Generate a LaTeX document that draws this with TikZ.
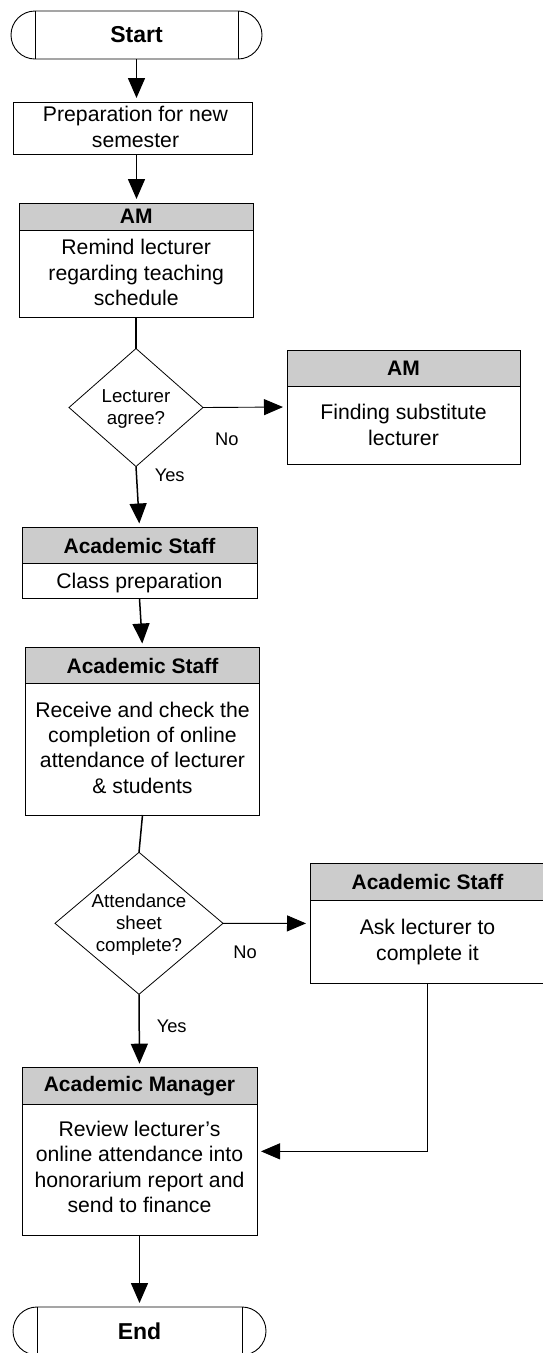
\documentclass[tikz,border=0pt]{standalone}
\usepackage{fontspec}
\setmainfont{Liberation Sans}
\usetikzlibrary{arrows.meta,shapes.geometric}
\definecolor{hdrgray}{RGB}{204,204,204}
\begin{document}
\begin{tikzpicture}[x=1pt,y=-1pt,
  every node/.style={inner sep=0pt, outer sep=0pt},
  term/.style={draw=black, line width=0.9pt, rectangle, rounded corners=24pt, minimum height=48pt, fill=white, font=\fontsize{23}{27}\selectfont\bfseries},
  box/.style={draw=black, line width=1pt, rectangle, fill=white},
  hdr/.style={draw=black, line width=1pt, rectangle, fill=hdrgray, font=\fontsize{21}{25}\selectfont\bfseries},
  body/.style={align=center, font=\fontsize{21.2}{25.3}\selectfont},
  dec/.style={draw=black, line width=0.8pt, diamond, fill=white},
  dtxt/.style={align=center, font=\fontsize{18.7}{22.2}\selectfont},
  lbl/.style={anchor=base, font=\fontsize{18.3}{22}\selectfont},
  flow/.style={line width=1.5pt, -{Triangle[length=20pt,width=17pt]}, shorten >=4pt},
  thinflow/.style={line width=0.9pt, -{Triangle[length=19pt,width=16pt]}, shorten >=4pt},
  plain/.style={line width=1.5pt},
  sep/.style={line width=0.9pt}
]
\fill[white] (0,0) rectangle (543,1353);
\useasboundingbox (0,0) rectangle (543,1353);

% Start
\node[term, minimum width=251pt] (st) at (136.5,35) {Start};
\draw[sep] ([xshift=24pt]st.north west) -- ([xshift=24pt]st.south west);
\draw[sep] ([xshift=-24pt]st.north east) -- ([xshift=-24pt]st.south east);

% Preparation
\node[box, minimum width=239pt, minimum height=52pt] (prep) at (132.5,128) {};
\node[body] (prept) at (135.5,127) {Preparation for new\\semester};

% AM 1
\node[box, minimum width=234.5pt, minimum height=114pt] (am1) at (136.25,260) {};
\node[hdr, minimum width=234.5pt, minimum height=27pt, anchor=north] (am1h) at (am1.north) {AM};
\node[body] (am1b) at (136.25,272.5) {Remind lecturer\\regarding teaching\\schedule};

% Decision 1
\node[dec, minimum width=134pt, minimum height=118pt] (d1) at (136,407.5) {};
\node[dtxt] (d1t) at (136,408.6) {Lecturer\\agree?};

% AM 2
\node[box, minimum width=233pt, minimum height=114pt] (am2) at (403.5,407) {};
\node[hdr, minimum width=233pt, minimum height=36.5pt, anchor=north] (am2h) at (am2.north) {AM};
\node[body] (am2b) at (403.5,425) {Finding substitute\\lecturer};

% Academic Staff 1
\node[box, minimum width=235pt, minimum height=71pt] (as1) at (139.5,563) {};
\node[hdr, minimum width=235pt, minimum height=36pt, anchor=north] (as1h) at (as1.north) {Academic Staff};
\node[body] (as1b) at (139.5,582.6) {Class preparation};

% Academic Staff 2
\node[box, minimum width=234pt, minimum height=167.5pt] (as2) at (142.5,731.25) {};
\node[hdr, minimum width=234pt, minimum height=36pt, anchor=north] (as2h) at (as2.north) {Academic Staff};
\node[body] (as2b) at (142.5,747.5) {Receive and check the\\completion of online\\attendance of lecturer\\\& students};

% Decision 2
\node[dec, minimum width=168pt, minimum height=142pt] (d2) at (139,923.3) {};
\node[dtxt] (d2t) at (139,924.9) {Attendance\\sheet\\complete?};

% Academic Staff 3
\node[box, minimum width=235pt, minimum height=120.8pt] (as3) at (427.5,923.4) {};
\node[hdr, minimum width=235pt, minimum height=37pt, anchor=north] (as3h) at (as3.north) {Academic Staff};
\node[body] (as3b) at (427.5,942) {Ask lecturer to\\complete it};

% Academic Manager
\node[box, minimum width=235pt, minimum height=167.3pt] (amg) at (139.5,1151.35) {};
\node[hdr, minimum width=235pt, minimum height=36.6pt, anchor=north] (amgh) at (amg.north) {Academic Manager};
\node[body] (amgb) at (139.5,1167) {Review lecturer’s\\online attendance into\\honorarium report and\\send to finance};

% End
\node[term, minimum width=253pt] (en) at (139.5,1331) {End};
\draw[sep] ([xshift=24pt]en.north west) -- ([xshift=24pt]en.south west);
\draw[sep] ([xshift=-24pt]en.north east) -- ([xshift=-24pt]en.south east);

% Labels
\node[lbl] (no1) at (226.8,445) {No};
\node[lbl] (yes1) at (169.7,481.7) {Yes};
\node[lbl] (no2) at (245,958.3) {No};
\node[lbl] (yes2) at (171.7,1032.7) {Yes};

% Connectors
\draw[flow] (st.south) -- (st.south |- prep.north);
\draw[flow] (prep.south -| st.south) -- (st.south |- am1.north);
\draw[plain] (am1.south -| d1.north) -- (d1.north);
\draw[thinflow] (d1.east) -- (am2.west);
\draw[flow] (d1.south) -- (as1.north);
\draw[flow] (as1.south) -- (as2.north);
\draw[plain] (as2.south) -- (d2.north);
\draw[thinflow] (d2.east) -- (as3.west);
\draw[flow] (d2.south) -- (amg.north);
\draw[thinflow] (as3b |- as3.south) |- (amg.east);
\draw[flow] (amg.south) -- (en.north);
\end{tikzpicture}
\end{document}
